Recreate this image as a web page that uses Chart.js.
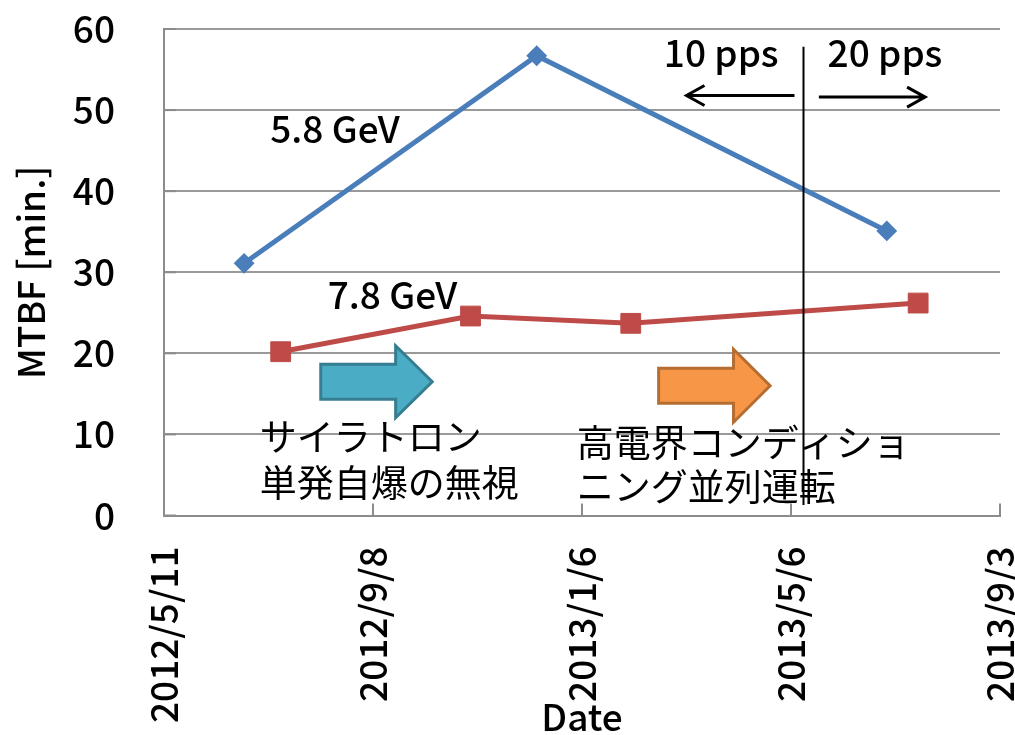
<!DOCTYPE html>
<html>
<head>
<meta charset="utf-8">
<script src="https://cdn.jsdelivr.net/npm/chart.js@4/dist/chart.umd.min.js"></script>
<style>
  html, body { margin: 0; padding: 0; background: #fff; }
  canvas { display: block; }
</style>
</head>
<body>
<canvas id="mtbfChart" width="1015" height="735"></canvas>
<script>
// Данные графика
const xTickLabels = ["2012/5/11", "2012/9/8", "2013/1/6", "2013/5/6", "2013/9/3"];
const yTicks = [0, 10, 20, 30, 40, 50, 60];

const dates58 = ["2012/6/26", "2012/12/11", "2013/6/30"];
const mtbf58 = [31.1, 56.7, 35.1];

const dates78 = ["2012/7/17", "2012/11/3", "2013/2/3", "2013/7/18"];
const mtbf78 = [20.2, 24.6, 23.7, 26.2];

// Переход 10 pps -> 20 pps
const switchDate = "2013/5/13";

const FONT = '"Noto Sans CJK JP", "Noto Sans", sans-serif';
const FONT_SIZE = 37;
const LATIN_WEIGHT = 500;

// Дата -> число дней от начала оси
function toDay(str) {
    const [y, m, d] = str.split("/").map(Number);
    const [y0, m0, d0] = xTickLabels[0].split("/").map(Number);
    return Math.round((Date.UTC(y, m - 1, d) - Date.UTC(y0, m0 - 1, d0)) / 86400000);
}

// Подписи на поле графика (в координатах данных)
const textNotes = [
    { text: "5.8 GeV", date: "2012/7/11", y: 47.7, weight: LATIN_WEIGHT },
    { text: "7.8 GeV", date: "2012/8/13", y: 27.2, weight: LATIN_WEIGHT },
    { text: "10 pps", date: "2013/2/22", y: 57.0, weight: LATIN_WEIGHT },
    { text: "20 pps", date: "2013/5/27", y: 57.0, weight: LATIN_WEIGHT },
    { text: "サイラトロン", date: "2012/7/5", y: 9.7, weight: 400 },
    { text: "単発自爆の無視", date: "2012/7/5", y: 4.0, weight: 400 },
    { text: "高電界コンディショ", date: "2013/1/3", y: 8.9, weight: 400 },
    { text: "ニング並列運転", date: "2013/1/3", y: 3.5, weight: 400 }
];

const lineArrows = [
    { from: "2013/5/8", to: "2013/3/7", y: 51.8 },
    { from: "2013/5/22", to: "2013/7/22", y: 51.6 }
];

const blockArrows = [
    { left: "2012/8/9", base: "2012/9/21", tip: "2012/10/12", y: 16.5, body: 2.16, head: 4.44, fill: "#4BACC6", stroke: "#357D91" },
    { left: "2013/2/19", base: "2013/4/3", tip: "2013/4/24", y: 16.0, body: 2.16, head: 4.5, fill: "#F79646", stroke: "#B66D31" }
];

// Засечки внутрь области графика
const innerTicks = {
    id: "innerTicks",
    beforeDatasetsDraw(chart) {
        const { ctx, chartArea, scales } = chart;
        ctx.save();
        ctx.strokeStyle = "#8c8c8c";
        ctx.lineWidth = 2;
        scales.x.ticks.forEach(t => {
            const x = Math.round(scales.x.getPixelForValue(t.value));
            ctx.beginPath();
            ctx.moveTo(x, chartArea.bottom);
            ctx.lineTo(x, chartArea.bottom - 12);
            ctx.stroke();
        });
        scales.y.ticks.forEach(t => {
            const y = scales.y.getPixelForValue(t.value);
            ctx.beginPath();
            ctx.moveTo(chartArea.left, y);
            ctx.lineTo(chartArea.left + 12, y);
            ctx.stroke();
        });
        ctx.restore();
    }
};

// Аннотации: стрелки, линия переключения, подписи
const notes = {
    id: "notes",
    afterDatasetsDraw(chart) {
        const { ctx, scales } = chart;
        const px = d => scales.x.getPixelForValue(toDay(d));
        const py = v => scales.y.getPixelForValue(v);
        ctx.save();

        blockArrows.forEach(a => {
            const l = px(a.left), b = px(a.base), t = px(a.tip), c = py(a.y);
            const bh = py(a.y - a.body) - c, hh = py(a.y - a.head) - c;
            ctx.beginPath();
            ctx.moveTo(l, c - bh);
            ctx.lineTo(b, c - bh);
            ctx.lineTo(b, c - hh);
            ctx.lineTo(t, c);
            ctx.lineTo(b, c + hh);
            ctx.lineTo(b, c + bh);
            ctx.lineTo(l, c + bh);
            ctx.closePath();
            ctx.fillStyle = a.fill;
            ctx.fill();
            ctx.strokeStyle = a.stroke;
            ctx.lineWidth = 3;
            ctx.stroke();
        });

        ctx.fillStyle = "#000";
        ctx.textAlign = "left";
        ctx.textBaseline = "middle";
        textNotes.forEach(n => {
            ctx.font = `${n.weight} ${FONT_SIZE}px ${FONT}`;
            ctx.fillText(n.text, px(n.date), py(n.y));
        });

        // вертикальная линия 10 pps / 20 pps
        const sx = Math.round(px(switchDate)) + 0.5;
        ctx.strokeStyle = "#000";
        ctx.lineWidth = 2;
        ctx.beginPath();
        ctx.moveTo(sx, py(57.8));
        ctx.lineTo(sx, py(1.3));
        ctx.stroke();

        ctx.lineWidth = 3;
        lineArrows.forEach(a => {
            const x1 = px(a.from), x2 = px(a.to), y = py(a.y);
            const dir = x2 > x1 ? 1 : -1;
            ctx.beginPath();
            ctx.moveTo(x1, y);
            ctx.lineTo(x2, y);
            ctx.moveTo(x2 - dir * 18, y - 10);
            ctx.lineTo(x2, y);
            ctx.lineTo(x2 - dir * 18, y + 10);
            ctx.stroke();
        });

        ctx.restore();
    }
};

new Chart(document.getElementById("mtbfChart"), {
    type: "line",
    data: {
        datasets: [
            {
                label: "5.8 GeV",
                data: dates58.map((d, i) => ({ x: toDay(d), y: mtbf58[i] })),
                borderColor: "#4A7EBB",
                backgroundColor: "#4A7EBB",
                borderWidth: 5,
                pointStyle: "rectRot",
                pointRadius: 9,
                pointBorderWidth: 2,
                tension: 0
            },
            {
                label: "7.8 GeV",
                data: dates78.map((d, i) => ({ x: toDay(d), y: mtbf78[i] })),
                borderColor: "#BE4B48",
                backgroundColor: "#BE4B48",
                borderWidth: 5,
                pointStyle: "rect",
                pointRadius: 14,
                pointBorderWidth: 1,
                tension: 0
            }
        ]
    },
    options: {
        responsive: false,
        animation: false,
        events: [],
        layout: { padding: { top: 29, right: 12, left: 0, bottom: 0 } },
        plugins: {
            legend: { display: false },
            tooltip: { enabled: false }
        },
        scales: {
            x: {
                type: "linear",
                min: toDay(xTickLabels[0]),
                max: toDay(xTickLabels[xTickLabels.length - 1]),
                afterBuildTicks: scale => {
                    scale.ticks = xTickLabels.map(d => ({ value: toDay(d) }));
                },
                afterFit: scale => {
                    scale.height = 219.5;
                    scale.paddingLeft = 0;
                    scale.paddingRight = 0;
                },
                grid: { display: false, drawTicks: false },
                border: { display: true, color: "#8c8c8c", width: 2 },
                ticks: {
                    autoSkip: false,
                    maxRotation: 90,
                    minRotation: 90,
                    padding: 31,
                    color: "#000",
                    font: { family: FONT, size: FONT_SIZE, weight: LATIN_WEIGHT },
                    callback: v => xTickLabels.find(d => toDay(d) === v) || ""
                },
                title: {
                    display: true,
                    text: "Date",
                    color: "#000",
                    font: { family: FONT, size: FONT_SIZE, weight: LATIN_WEIGHT, lineHeight: 1 },
                    padding: { top: 0, bottom: 0 }
                }
            },
            y: {
                min: yTicks[0],
                max: yTicks[yTicks.length - 1],
                afterBuildTicks: scale => {
                    scale.ticks = yTicks.map(v => ({ value: v }));
                },
                afterFit: scale => {
                    scale.width = 164;
                    scale.paddingTop = 0;
                    scale.paddingBottom = 0;
                },
                grid: { color: "#9a9a9a", lineWidth: 2, drawTicks: false },
                border: { display: true, color: "#8c8c8c", width: 2 },
                ticks: {
                    padding: 49,
                    color: "#000",
                    font: { family: FONT, size: FONT_SIZE, weight: LATIN_WEIGHT }
                },
                title: {
                    display: true,
                    text: "MTBF [min.]",
                    color: "#000",
                    font: { family: FONT, size: FONT_SIZE, weight: LATIN_WEIGHT, lineHeight: 1 },
                    padding: { top: 12, bottom: 0 }
                }
            }
        }
    },
    plugins: [innerTicks, notes]
});
</script>
</body>
</html>
